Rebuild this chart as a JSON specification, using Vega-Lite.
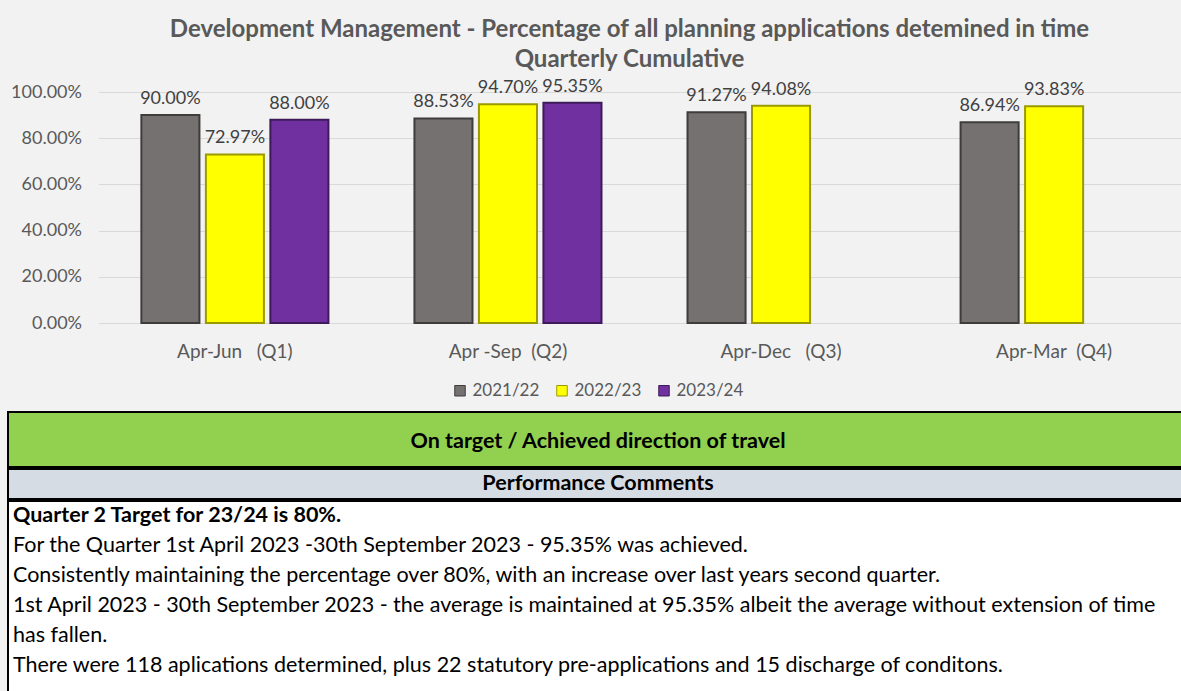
{
  "$schema": "https://vega.github.io/schema/vega-lite/v6.json",
  "background": "#f2f2f2",
  "padding": {"left": 7, "top": 17, "right": 0, "bottom": 0},
  "config": {
    "font": "Lato",
    "view": {"stroke": null}
  },
  "resolve": {"legend": {"color": "independent", "stroke": "independent"}, "scale": {"color": "independent", "stroke": "independent"}},
  "columns": 1,
  "center": true,
  "spacing": 12,
  "concat": [
    {
      "width": 1092,
      "height": 231,
      "title": {
        "text": ["Development Management - Percentage of all planning applications detemined in time", "Quarterly Cumulative"],
        "fontSize": 24,
        "fontWeight": "bold",
        "color": "#595959",
        "lineHeight": 30,
        "anchor": "middle",
        "offset": 6,
        "dx": -15
      },
      "data": {
        "values": [
          {"quarter": "Apr-Jun\u00a0\u00a0\u00a0(Q1)", "year": "2021/22", "pct": 0.9},
          {"quarter": "Apr-Jun\u00a0\u00a0\u00a0(Q1)", "year": "2022/23", "pct": 0.7297},
          {"quarter": "Apr-Jun\u00a0\u00a0\u00a0(Q1)", "year": "2023/24", "pct": 0.88},
          {"quarter": "Apr -Sep\u00a0\u00a0(Q2)", "year": "2021/22", "pct": 0.8853},
          {"quarter": "Apr -Sep\u00a0\u00a0(Q2)", "year": "2022/23", "pct": 0.947},
          {"quarter": "Apr -Sep\u00a0\u00a0(Q2)", "year": "2023/24", "pct": 0.9535},
          {"quarter": "Apr-Dec\u00a0\u00a0\u00a0(Q3)", "year": "2021/22", "pct": 0.9127},
          {"quarter": "Apr-Dec\u00a0\u00a0\u00a0(Q3)", "year": "2022/23", "pct": 0.9408},
          {"quarter": "Apr-Mar\u00a0\u00a0(Q4)", "year": "2021/22", "pct": 0.8694},
          {"quarter": "Apr-Mar\u00a0\u00a0(Q4)", "year": "2022/23", "pct": 0.9383}
        ]
      },
      "encoding": {
        "x": {
          "field": "quarter",
          "type": "nominal",
          "sort": ["Apr-Jun\u00a0\u00a0\u00a0(Q1)", "Apr -Sep\u00a0\u00a0(Q2)", "Apr-Dec\u00a0\u00a0\u00a0(Q3)", "Apr-Mar\u00a0\u00a0(Q4)"],
          "scale": {"paddingInner": 0.315, "paddingOuter": 0.157},
          "axis": {
            "title": null,
            "labelAngle": 0,
            "ticks": false,
            "domainColor": "#d9d9d9",
            "labelFontSize": 19,
            "labelColor": "#595959",
            "labelPadding": 19
          }
        },
        "xOffset": {
          "field": "year",
          "type": "nominal",
          "scale": {"domain": ["2021/22", "2022/23", "2023/24"], "paddingInner": 0.1}
        },
        "y": {
          "field": "pct",
          "type": "quantitative",
          "scale": {"domain": [0, 1]},
          "axis": {
            "title": null,
            "format": ".2%",
            "values": [0, 0.2, 0.4, 0.6, 0.8, 1],
            "domain": false,
            "ticks": false,
            "gridColor": "#d9d9d9",
            "labelFontSize": 18,
            "labelColor": "#595959",
            "labelPadding": 17,
            "minExtent": 90
          }
        }
      },
      "layer": [
        {
          "mark": {"type": "bar", "strokeWidth": 2},
          "encoding": {
            "color": {
              "field": "year",
              "type": "nominal",
              "scale": {"domain": ["2021/22", "2022/23", "2023/24"], "range": ["#767171", "#ffff00", "#7030a0"]},
              "legend": {
                "orient": "none",
                "legendX": 353,
                "legendY": 290,
                "direction": "horizontal",
                "title": null,
                "symbolType": "square",
                "symbolSize": 110,
                "symbolStrokeColor": "#333333",
                "symbolStrokeWidth": 1,
                "labelFontSize": 17,
                "labelColor": "#595959",
                "columnPadding": 14
              }
            },
            "stroke": {
              "field": "year",
              "type": "nominal",
              "scale": {"domain": ["2021/22", "2022/23", "2023/24"], "range": ["#3f3c3c", "#9a9a00", "#3e1a5a"]},
              "legend": null
            }
          }
        },
        {
          "mark": {"type": "text", "dy": -11, "baseline": "alphabetic", "fontSize": 18, "color": "#404040"},
          "encoding": {"text": {"field": "pct", "type": "quantitative", "format": ".2%"}}
        }
      ]
    },
    {
      "spacing": 0,
      "vconcat": [
        {
          "width": 1272,
          "height": 55,
          "view": {"fill": "#92d050", "stroke": "#000000", "strokeWidth": 2},
          "data": {"values": [{"label": "On target / Achieved direction of travel"}]},
          "mark": {"type": "text", "fontSize": 21.5, "fontWeight": "bold", "color": "#000000", "dx": -46, "dy": 2},
          "encoding": {"text": {"field": "label", "type": "nominal"}}
        },
        {
          "width": 1272,
          "height": 30,
          "view": {"fill": "#d6dce4", "stroke": "#000000", "strokeWidth": 2},
          "data": {"values": [{"label": "Performance Comments"}]},
          "mark": {"type": "text", "fontSize": 21.5, "fontWeight": "bold", "color": "#000000", "dx": -46},
          "encoding": {"text": {"field": "label", "type": "nominal"}}
        },
        {
          "width": 1272,
          "height": 196,
          "view": {"fill": "#ffffff", "stroke": "#000000", "strokeWidth": 2},
          "data": {
            "values": [
              {"line": 1, "bold": true, "text": "Quarter 2 Target for 23/24 is 80%."},
              {"line": 2, "bold": false, "text": "For the Quarter 1st April 2023 -30th September 2023 - 95.35% was achieved."},
              {"line": 3, "bold": false, "text": "Consistently maintaining the percentage over 80%, with an increase over last years second quarter."},
              {"line": 4, "bold": false, "text": "1st April 2023 - 30th September 2023 - the average is maintained at 95.35% albeit the average without extension of time"},
              {"line": 5, "bold": false, "text": "has fallen."},
              {"line": 6, "bold": false, "text": "There were 118 aplications determined, plus 22 statutory pre-applications and 15 discharge of conditons."}
            ]
          },
          "encoding": {
            "x": {"datum": 0, "type": "quantitative", "scale": {"domain": [0, 1]}, "axis": null},
            "y": {"field": "line", "type": "quantitative", "scale": {"domain": [0.5, 7.033], "reverse": true}, "axis": null},
            "text": {"field": "text", "type": "nominal"}
          },
          "layer": [
            {
              "transform": [{"filter": "datum.bold"}],
              "mark": {"type": "text", "align": "left", "baseline": "middle", "dx": 5, "fontSize": 21.5, "fontWeight": "bold", "color": "#000000"}
            },
            {
              "transform": [{"filter": "!datum.bold"}],
              "mark": {"type": "text", "align": "left", "baseline": "middle", "dx": 5, "fontSize": 21.5, "color": "#000000"}
            }
          ]
        }
      ]
    }
  ]
}
